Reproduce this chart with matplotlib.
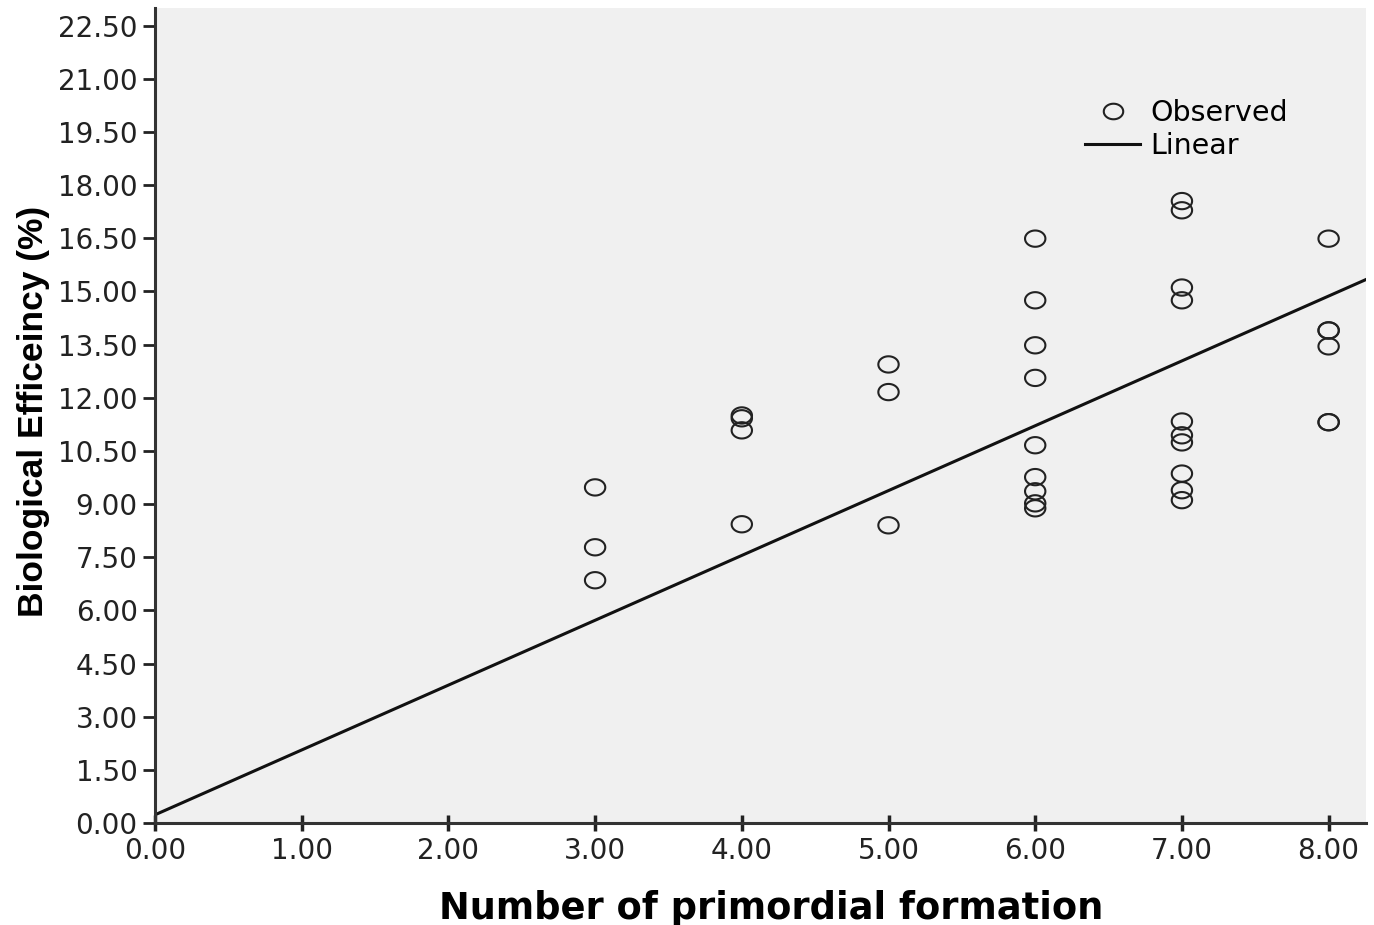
import numpy as np
import matplotlib
matplotlib.use("Agg")
import matplotlib.pyplot as plt
from matplotlib.path import Path
from matplotlib.lines import Line2D

# Observed biological efficiency per number of primordia
primordia = [3, 3, 3,
             4, 4, 4, 4,
             5, 5, 5,
             6, 6, 6, 6, 6, 6, 6, 6, 6,
             7, 7, 7, 7, 7, 7, 7, 7, 7, 7,
             8, 8, 8, 8, 8, 8]
efficiency = [9.47, 7.78, 6.85,
              11.50, 11.42, 11.08, 8.43,
              12.94, 12.16, 8.40,
              16.49, 14.75, 13.48, 12.56, 10.66, 9.76, 9.36, 9.02, 8.88,
              17.55, 17.29, 15.11, 14.75, 11.33, 10.94, 10.74, 9.86, 9.39, 9.11,
              16.49, 13.90, 13.90, 13.45, 11.31, 11.31]

# Linear fit line (intercept, slope)
fit_intercept = 0.23
fit_slope = 1.83

x_ticks = [0, 1, 2, 3, 4, 5, 6, 7, 8]
y_ticks = [0, 1.5, 3, 4.5, 6, 7.5, 9, 10.5, 12, 13.5, 15, 16.5, 18, 19.5, 21, 22.5]

# slightly flattened open circle marker
theta = np.linspace(0, 2 * np.pi, 60)
ellipse = Path(np.column_stack([np.cos(theta), 0.8 * np.sin(theta)]), closed=True)

fig = plt.figure(figsize=(13.74, 9.25), dpi=100)
ax = fig.add_axes([0.1128, 0.1103, 0.8814, 0.8811])
ax.set_facecolor("#f0f0f0")

ax.scatter(primordia, efficiency, marker=ellipse, s=215, facecolors="none",
           edgecolors="#222222", linewidths=1.5, zorder=3)

xmin, xmax = 0, 8.255
xs = np.array([xmin, xmax])
ax.plot(xs, fit_intercept + fit_slope * xs, color="#111111", linewidth=2.2, zorder=2)

ax.set_xlim(xmin, xmax)
ax.set_ylim(0, 23)
ax.set_xticks(x_ticks)
ax.set_xticklabels([f"{v:.2f}" for v in x_ticks])
ax.set_yticks(y_ticks)
ax.set_yticklabels([f"{v:.2f}" for v in y_ticks])

for side in ["top", "right"]:
    ax.spines[side].set_visible(False)
for side in ["left", "bottom"]:
    ax.spines[side].set_linewidth(2.2)
    ax.spines[side].set_color("#333333")

ax.tick_params(axis="y", direction="out", length=9, width=2, color="#222222",
               labelsize=20, pad=3.5)
ax.tick_params(axis="x", direction="inout", length=12, width=2.5, color="#222222",
               labelsize=20, pad=4)
for lab in ax.get_xticklabels() + ax.get_yticklabels():
    lab.set_fontfamily("DejaVu Sans")
    lab.set_color("#222222")

ax.set_xlabel("Number of primordial formation", fontsize=26.5, fontweight="bold",
              fontfamily="DejaVu Sans")
ax.xaxis.set_label_coords(0.509, -0.0826)
ax.set_ylabel("Biological Efficeincy (%)", fontsize=25.5, fontweight="bold",
              fontfamily="Liberation Sans")
ax.yaxis.set_label_coords(-0.087, 0.505)

handles = [
    Line2D([], [], marker=ellipse, markersize=14, markerfacecolor="none",
           markeredgecolor="#222222", markeredgewidth=1.5, linestyle="none",
           label="Observed"),
    Line2D([], [], color="#111111", linewidth=2.2, label="Linear"),
]
ax.legend(handles=handles, loc="upper left", bbox_to_anchor=(0.768, 0.888),
          frameon=False, fontsize=20.5, handlelength=1.93, handletextpad=0.35,
          labelspacing=0.15, borderpad=0, borderaxespad=0)

fig.savefig("out.png", dpi=100)
